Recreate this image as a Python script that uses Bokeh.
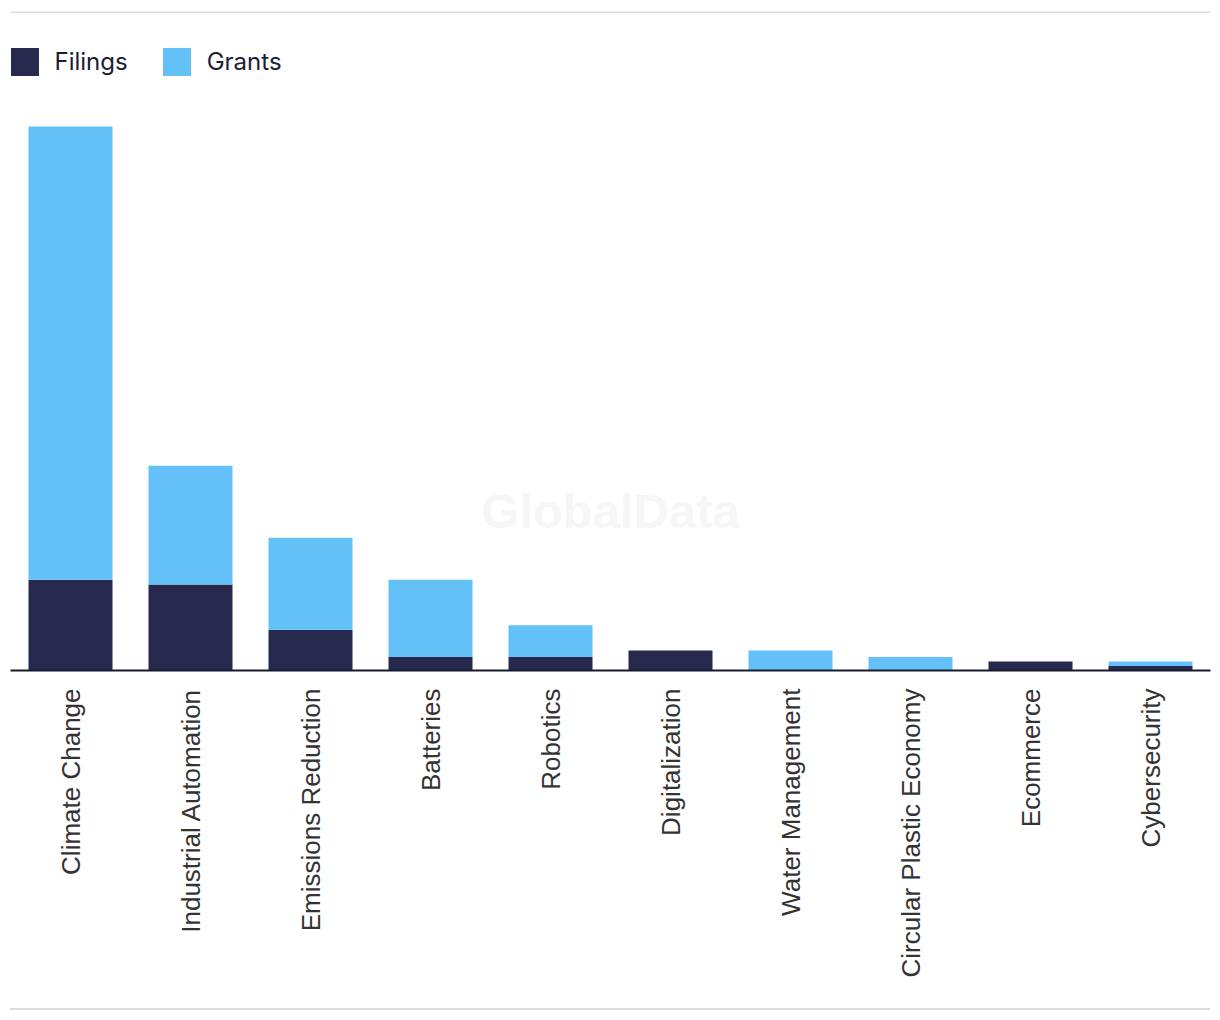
import math
from bokeh.plotting import figure
from bokeh.layouts import column
from bokeh.models import FactorRange, Range1d, Span, Label, Legend, LegendItem, Div
from bokeh.embed import file_html
from bokeh.resources import INLINE

categories = ["Climate Change", "Industrial Automation", "Emissions Reduction", "Batteries",
              "Robotics", "Digitalization", "Water Management", "Circular Plastic Economy",
              "Ecommerce", "Cybersecurity"]
filings = [20, 19, 9, 3, 3, 4.4, 0, 0, 2, 1]
grants = [100, 26.2, 20.3, 17, 7, 0, 4.4, 3, 0, 1]

FILINGS_COLOR = "#272a4e"
GRANTS_COLOR = "#63c1f8"

p = figure(width=1220, height=1003, output_backend="svg", toolbar_location=None,
           x_range=FactorRange(factors=categories, range_padding=0),
           y_range=Range1d(0, 145.4),
           min_border_left=10, min_border_right=10, min_border_top=11, min_border_bottom=333)
p.outline_line_color = None
p.grid.visible = False
p.yaxis.visible = False

data = dict(cat=categories, Filings=filings, Grants=grants)
rs = p.vbar_stack(["Filings", "Grants"], x="cat", width=0.7, source=data,
                  color=[FILINGS_COLOR, GRANTS_COLOR], line_color=None)

ax = p.xaxis[0]
ax.major_label_orientation = math.pi / 2
ax.major_label_text_font = "Liberation Sans"
ax.major_label_text_font_size = "26px"
ax.major_label_text_color = "#333333"
ax.major_label_standoff = 12
ax.major_tick_line_color = None
ax.minor_tick_line_color = None
ax.axis_line_color = "#161a2e"
ax.axis_line_width = 2

# top rule
p.add_layout(Span(location=145.3, dimension="width", line_color="#dcdcdc", line_width=2))

# watermark
p.add_layout(Label(x=5, y=35.1, text="GlobalData", text_align="center", text_baseline="middle",
                   text_font="Liberation Sans", text_font_style="bold", text_font_size="49px",
                   text_color="#f6f6f6"))

legend = Legend(items=[LegendItem(label="Filings", renderers=[rs[0]]),
                       LegendItem(label="Grants", renderers=[rs[1]])],
                orientation="horizontal", location=(-3.5, 591.5),
                glyph_width=35, glyph_height=35, label_standoff=13, spacing=31,
                padding=0, margin=0, border_line_color=None, background_fill_alpha=0,
                label_text_font="Inter", label_text_font_size="24px",
                label_text_color="#1b1d33")
p.add_layout(legend)

# bottom rule
rule = Div(width=1200, height=2, styles={"background-color": "#dcdcdc", "margin-left": "10px"})

layout = column(p, rule, spacing=0)
open("out.html", "w").write(file_html(layout, INLINE))
